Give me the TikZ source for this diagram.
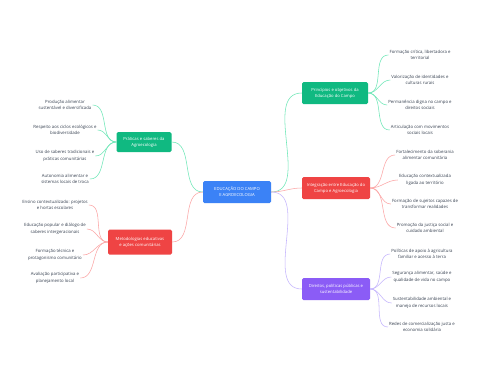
\documentclass[tikz,border=0pt]{standalone}
\usepackage{fontspec}
\setmainfont{Open Sans}
\usetikzlibrary{positioning}
\definecolor{hubblue}{HTML}{3B82F6}
\definecolor{topicgreen}{HTML}{10B981}
\definecolor{topicred}{HTML}{EF4444}
\definecolor{topicpurple}{HTML}{8B5CF6}
\definecolor{linkgreen}{HTML}{6EE7B7}
\definecolor{linkred}{HTML}{FCA5A5}
\definecolor{linkpurple}{HTML}{C4B5FD}
\definecolor{leaftext}{HTML}{374151}
\tikzset{
    topic/.style={rounded corners=1.5pt, text=white, align=center,
        font=\fontsize{4.2}{6}\selectfont, inner sep=2pt},
    leaf/.style={align=center, text=leaftext, font=\fontsize{4.3}{6.6}\selectfont, inner sep=1pt},
    link/.style={line width=0.55pt},
}

\begin{document}
\begin{tikzpicture}[x=1pt,y=-1pt]
    \useasboundingbox[fill=white] (0,0) rectangle (480,384);

    % main topic and branches
    \node[topic, fill=hubblue, minimum width=68pt, minimum height=22pt] (HUB) at (237,192)
        {EDUCAÇÃO DO CAMPO\\E AGROECOLOGIA};
    \node[topic, fill=topicgreen, minimum width=66pt, minimum height=22pt] (G1) at (335,93)
        {Princípios e objetivos da\\Educação do Campo};
    \node[topic, fill=topicred, minimum width=68pt, minimum height=22pt] (R1) at (336,188)
        {Integração entre Educação do\\Campo e Agroecologia};
    \node[topic, fill=topicpurple, minimum width=68pt, minimum height=22pt] (P1) at (336,289)
        {Direitos, políticas públicas e\\sustentabilidade};
    \node[topic, fill=topicgreen, minimum width=55pt, minimum height=20pt] (G2) at (144,142)
        {Práticas e saberes da\\Agroecologia};
    \node[topic, fill=topicred, minimum width=64pt, minimum height=25pt] (R2) at (140,242)
        {Metodologias educativas\\e ações comunitárias};

    \draw[link, linkgreen] (HUB.east) to[out=0,in=180] (G1.west);
    \draw[link, linkred] (HUB.east) to[out=0,in=180] (R1.west);
    \draw[link, linkpurple] (HUB.east) to[out=0,in=180] (P1.west);
    \draw[link, linkgreen] (HUB.west) to[out=180,in=0] (G2.east);
    \draw[link, linkred] (HUB.west) to[out=180,in=0] (R2.east);

    % leaves, right side
    \foreach \y/\txt [count=\i] in {
        55/{Formação crítica, libertadora e\\territorial},
        80/{Valorização de identidades e\\culturas rurais},
        105/{Permanência digna no campo e\\direitos sociais},
        130/{Articulação com movimentos\\sociais locais}}{
        \node[leaf] (GA\i) at (420,\y) {\txt};
        \draw[link, linkgreen] (G1.east) to[out=0,in=180] (GA\i.west);
    }
    \foreach \y/\txt [count=\i] in {
        155/{Fortalecimento da soberania\\alimentar comunitária},
        180/{Educação contextualizada\\ligada ao território},
        204/{Formação de sujeitos capazes de\\transformar realidades},
        228/{Promoção da justiça social e\\cuidado ambiental}}{
        \node[leaf] (RA\i) at (425,\y) {\txt};
        \draw[link, linkred] (R1.east) to[out=0,in=180] (RA\i.west);
    }
    \foreach \y/\txt [count=\i] in {
        254/{Políticas de apoio à agricultura\\familiar e acesso à terra},
        277/{Segurança alimentar, saúde e\\qualidade de vida no campo},
        303/{Sustentabilidade ambiental e\\manejo de recursos locais},
        327/{Redes de comercialização justa e\\economia solidária}}{
        \node[leaf] (PA\i) at (422,\y) {\txt};
        \draw[link, linkpurple] (P1.east) to[out=0,in=180] (PA\i.west);
    }

    % leaves, left side
    \foreach \y/\txt [count=\i] in {
        105/{Produção alimentar\\sustentável e diversificada},
        130/{Respeito aos ciclos ecológicos e\\biodiversidade},
        156/{Uso de saberes tradicionais e\\práticas comunitárias},
        179/{Autonomia alimentar e\\sistemas locais de troca}}{
        \node[leaf] (GB\i) at (65,\y) {\txt};
        \draw[link, linkgreen] (G2.west) to[out=180,in=0] (GB\i.east);
    }
    \foreach \y/\txt [count=\i] in {
        205/{Ensino contextualizado: projetos\\e hortas escolares},
        229/{Educação popular e diálogo de\\saberes intergeracionais},
        255/{Formação técnica e\\protagonismo comunitário},
        278/{Avaliação participativa e\\planejamento local}}{
        \node[leaf] (RB\i) at (55,\y) {\txt};
        \draw[link, linkred] (R2.west) to[out=180,in=0] (RB\i.east);
    }
\end{tikzpicture}
\end{document}
